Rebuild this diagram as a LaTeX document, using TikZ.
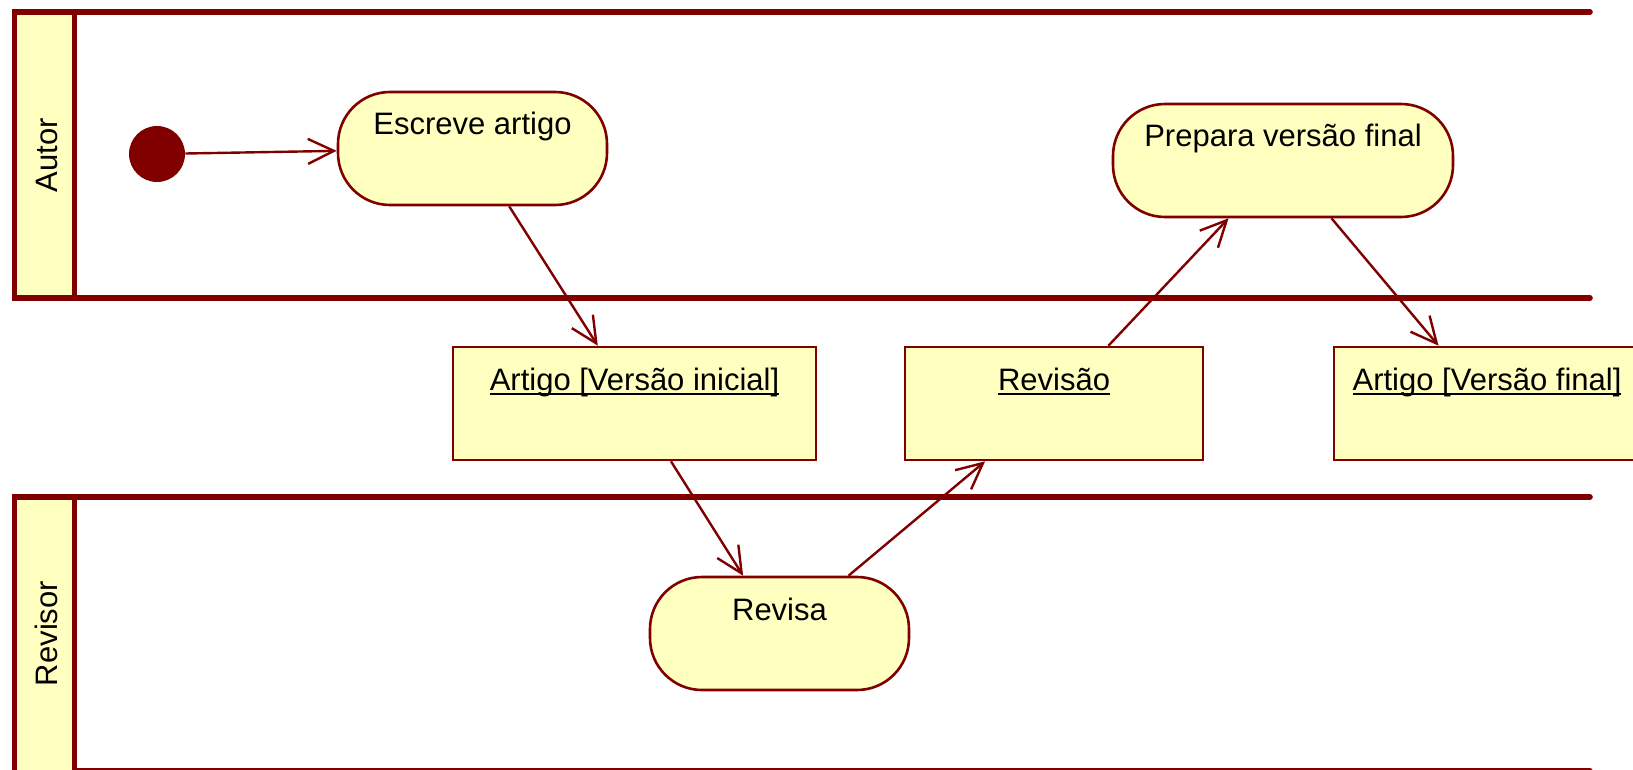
\documentclass[tikz,border=0pt]{standalone}
\usepackage{fontspec}
\setmainfont{Liberation Sans}
\usetikzlibrary{arrows.meta}

\definecolor{umlred}{RGB}{128,0,0}
\definecolor{umlfill}{RGB}{255,255,192}
\newcommand{\objname}[1]{\setbox0\hbox{#1}\rlap{\rule[-2.6pt]{\wd0}{0.9pt}}\box0}

\begin{document}
\begin{tikzpicture}[x=0.5pt, y=-0.5pt,
    font=\fontsize{15.5}{18}\selectfont,
    lane/.style={draw=umlred, line width=2.8pt, line cap=round},
    header/.style={draw=umlred, fill=umlfill, line width=2.8pt},
    action/.style={draw=umlred, fill=umlfill, line width=1.3pt, rounded corners=26pt,
      minimum height=56.5pt, inner sep=0pt, text height=4pt, text depth=17.5pt},
    object/.style={draw=umlred, fill=umlfill, line width=1.3pt,
      minimum height=56.5pt, inner sep=0pt, text height=4pt, text depth=17.5pt},
    flow/.style={draw=umlred, line width=1.2pt, -{Straight Barb[length=13pt, width=12.5pt]}}]
    \useasboundingbox (0,0) rectangle (1633,770);
    \clip (0,0) rectangle (1633,770);

    % swimlanes
    \draw [lane] (74.5,12) -- (1590,12) (74.5,298) -- (1590,298);
    \draw [lane] (74.5,497) -- (1590,497) (74.5,771) -- (1590,771);
    \draw [header] (14.5,12) rectangle (74.5,298);
    \draw [header] (14.5,497) rectangle (74.5,800);
    \node [rotate=90] (autor) at (46.5,155) {Autor};
    \node [rotate=90] (revisor) at (46.5,633.5) {Revisor};

    \node [circle, fill=umlred, minimum size=28pt, inner sep=0pt] (start) at (157,154) {};
    \node [action, minimum width=134.5pt] (escreve) at (472.5,148.5) {Escreve artigo};
    \node [action, minimum width=170pt] (prepara) at (1283,160.5) {Prepara versão final};
    \node [object, minimum width=181.5pt] (inicial) at (634.5,403.5) {\objname{Artigo [Versão inicial]}};
    \node [object, minimum width=149pt] (revisao) at (1054,403.5) {\objname{Revisão}};
    \node [object, minimum width=153pt] (final) at (1487,403.5) {\objname{Artigo [Versão final]}};
    \node [action, minimum width=129.5pt] (revisa) at (779.5,633.5) {Revisa};

    \draw [flow] (start) -- (escreve);
    \draw [flow] (escreve) -- (inicial);
    \draw [flow] (inicial) -- (revisa);
    \draw [flow] (revisa) -- (revisao);
    \draw [flow] (revisao) -- (prepara);
    \draw [flow] (prepara) -- (final);
\end{tikzpicture}
\end{document}
